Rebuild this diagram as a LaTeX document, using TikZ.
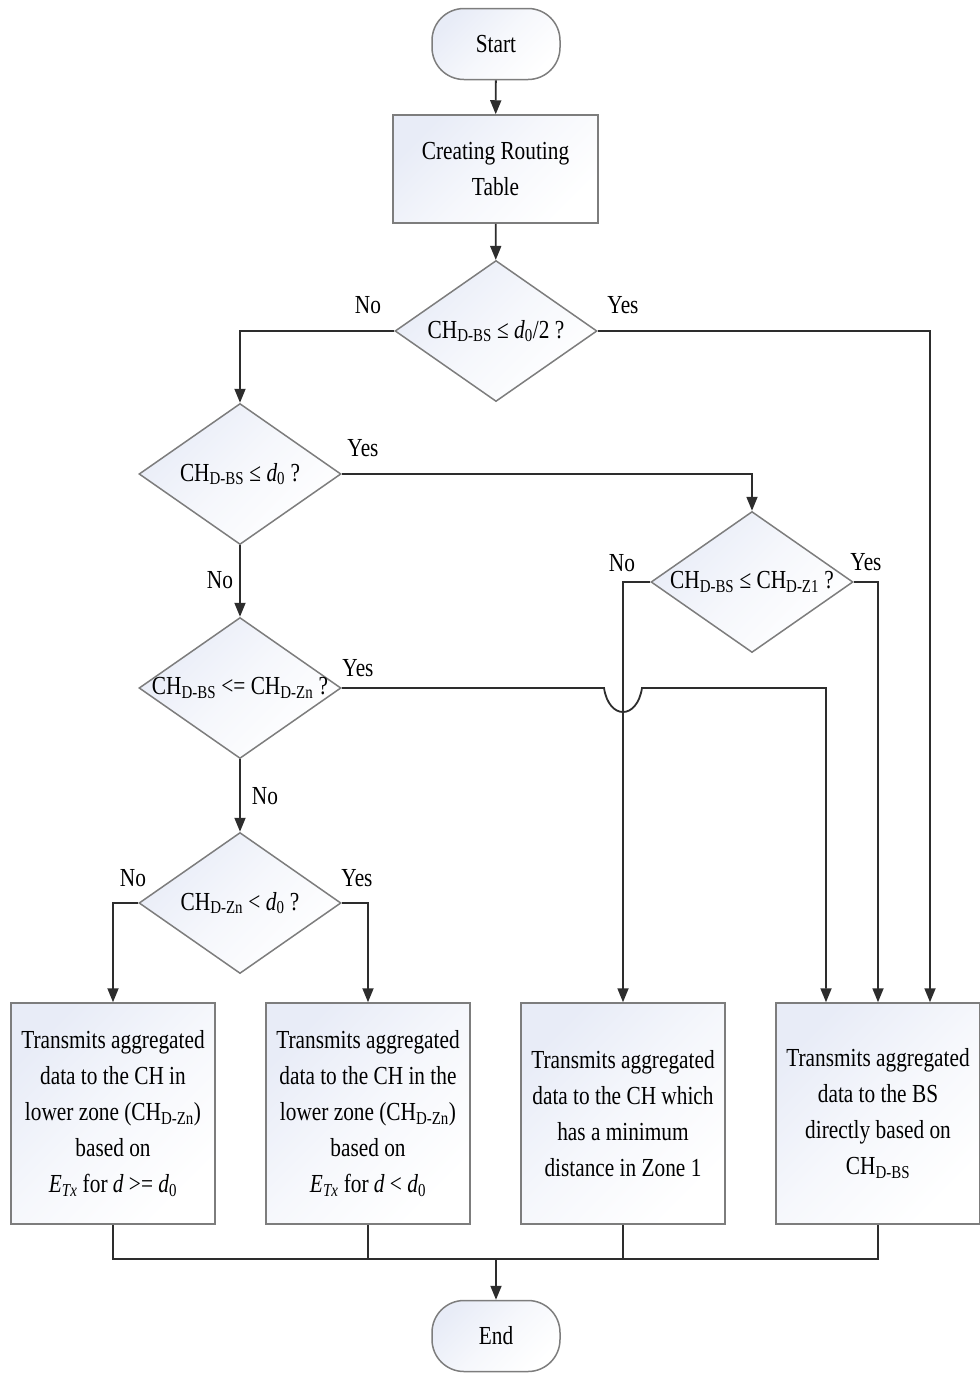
\documentclass[tikz,border=0pt]{standalone}
\usepackage{fontspec}
\setmainfont{Liberation Serif}[FakeStretch=0.82]
\usetikzlibrary{shapes.geometric,arrows.meta,calc}
\definecolor{boxfill}{RGB}{232,236,247}
\definecolor{boxline}{RGB}{125,125,125}
\definecolor{flowline}{RGB}{45,45,45}

\begin{document}
\begin{tikzpicture}[x=1pt,y=1pt,
    font=\fontsize{26}{36}\selectfont,
    shadebox/.style={draw=boxline, line width=1.5pt, top color=boxfill, bottom color=white, middle color=white!60!boxfill, shading angle=45},
    term/.style={shadebox, rounded corners=32pt, minimum width=128pt, minimum height=71pt},
    proc/.style={shadebox, minimum width=204pt, minimum height=221pt, align=center, inner sep=0pt},
    decision/.style={shadebox, diamond, minimum width=202pt, minimum height=141pt, inner sep=0pt},
    flow/.style={draw=flowline, line width=1.8pt},
    arr/.style={flow, -{Triangle[length=14pt,width=11pt]}},
    lbl/.style={inner sep=0pt}]
    \useasboundingbox (0,0) rectangle (980,-1374);

    \node[term] (start) at (496,-44) {Start};
    \node[proc, minimum width=205pt, minimum height=108pt] (route) at (495.5,-169) {Creating Routing\\ Table};
    \node[decision] (d1) at (496,-331) {};
    \node[decision] (d2) at (240,-474) {};
    \node[decision] (d3) at (752,-582) {};
    \node[decision] (d4) at (240,-688) {};
    \node[decision] (d5) at (240,-903) {};
    \node (d1t) at (d1) {CH\textsubscript{D-BS} ≤ \textit{d}\textsubscript{0}/2 ?};
    \node (d2t) at (d2) {CH\textsubscript{D-BS} ≤ \textit{d}\textsubscript{0} ?};
    \node (d3t) at (d3) {CH\textsubscript{D-BS} ≤ CH\textsubscript{D-Z1} ?};
    \node (d4t) at (d4) {CH\textsubscript{D-BS} <= CH\textsubscript{D-Zn} ?};
    \node (d5t) at (d5) {CH\textsubscript{D-Zn} < \textit{d}\textsubscript{0} ?};

    \node[proc] (b1) at (113,-1113.5) {Transmits aggregated\\ data to the CH in\\ lower zone (CH\textsubscript{D-Zn})\\ based on\\ \textit{E}\textsubscript{\textit{Tx}} for \textit{d} >= \textit{d}\textsubscript{0}};
    \node[proc] (b2) at (368,-1113.5) {Transmits aggregated\\ data to the CH in the\\ lower zone (CH\textsubscript{D-Zn})\\ based on\\ \textit{E}\textsubscript{\textit{Tx}} for \textit{d} < \textit{d}\textsubscript{0}};
    \node[proc] (b3) at (623,-1113.5) {Transmits aggregated\\ data to the CH which\\ has a minimum\\ distance in Zone 1};
    \node[proc] (b4) at (878,-1113.5) {Transmits aggregated\\ data to the BS\\ directly based on\\ CH\textsubscript{D-BS}};
    \node[term] (end) at (496,-1336) {End};

    \coordinate (jmp) at (b3.north |- d4.east);
    \coordinate (bus) at (496,-1259);

    \draw[arr] (start) -- (route);
    \draw[arr] (route) -- (d1);
    \draw[arr] (d1.east) -| ([xshift=52pt]b4.north);
    \draw[arr] (d1.west) -| (d2.north);
    \draw[arr] (d2.east) -| (d3.north);
    \draw[arr] (d2.south) -- (d4.north);
    \draw[arr] (d3.west) -| (b3.north);
    \draw[arr] (d3.east) -| (b4.north);
    \draw[arr] (d4.east) -- ([xshift=-19pt]jmp) .. controls +(5,-32) and +(-5,-32) .. ([xshift=19pt]jmp) -| ([xshift=-52pt]b4.north);
    \draw[arr] (d4.south) -- (d5.north);
    \draw[arr] (d5.west) -| (b1.north);
    \draw[arr] (d5.east) -| (b2.north);

    \draw[flow] (b1.south) |- (bus) -| (b4.south);
    \draw[flow] (b2.south) -- (b2.south |- bus);
    \draw[flow] (b3.south) -- (b3.south |- bus);
    \draw[arr] (bus) -- (end);

    \node[lbl] (d1no) at (368,-305) {No};
    \node[lbl] (d1yes) at (623,-305) {Yes};
    \node[lbl] (d2yes) at (363,-448) {Yes};
    \node[lbl] (d2no) at (220,-580) {No};
    \node[lbl] (d3no) at (622,-563) {No};
    \node[lbl] (d3yes) at (866,-562) {Yes};
    \node[lbl] (d4yes) at (358,-668) {Yes};
    \node[lbl] (d4no) at (265,-796) {No};
    \node[lbl] (d5no) at (133,-878) {No};
    \node[lbl] (d5yes) at (357,-878) {Yes};
\end{tikzpicture}
\end{document}
